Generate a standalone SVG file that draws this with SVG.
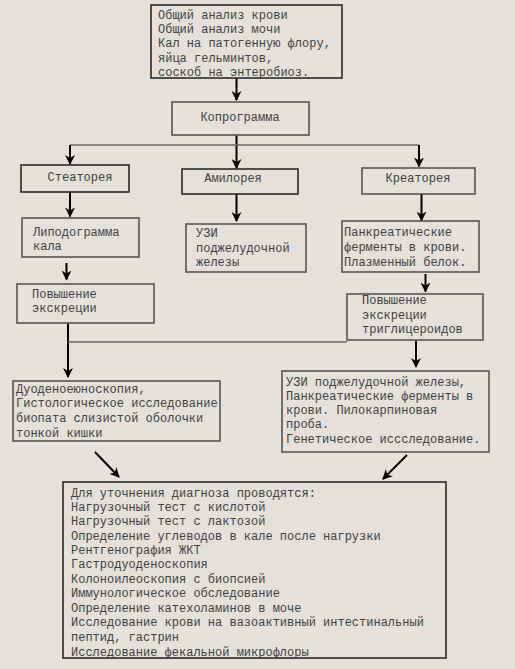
<svg xmlns="http://www.w3.org/2000/svg" width="515" height="669" viewBox="0 0 515 669">
<style>
.box{fill:none;stroke:#555;stroke-width:1.6}
.box.dark{stroke:#2a2a2a}
text{font-family:"Liberation Mono","DejaVu Sans Mono",monospace;font-size:12px;fill:#404040}
text.c{text-anchor:middle}
.arr{stroke:#000;stroke-width:2;fill:none;marker-end:url(#ah)}
.ln{stroke:#666;stroke-width:1.6;fill:none}
</style>
<defs>
<marker id="ah" markerUnits="userSpaceOnUse" viewBox="0 0 10 10" refX="9" refY="5" markerWidth="10" markerHeight="10" orient="auto">
<path d="M0,0 L10,5 L0,10 L3,5 z" fill="#000"/>
</marker>
</defs>
<rect width="515" height="669" fill="#e5e1da"/>
<g id="connectors">
<line class="arr" x1="236.5" y1="78" x2="236.5" y2="100"/>
<line class="arr" x1="236.5" y1="135" x2="236.5" y2="168"/>
<line class="ln" x1="70" y1="145" x2="419" y2="145"/>
<line class="arr" x1="70" y1="145" x2="70" y2="164"/>
<line class="arr" x1="419" y1="145" x2="419" y2="166.5"/>
<line class="arr" x1="70" y1="192" x2="70" y2="216.5"/>
<line class="arr" x1="236.5" y1="194" x2="236.5" y2="221"/>
<line class="arr" x1="421.5" y1="194" x2="421.5" y2="220.5"/>
<line class="arr" x1="66.5" y1="263" x2="66.5" y2="279.5"/>
<line class="arr" x1="425.5" y1="274" x2="425.5" y2="291.5"/>
<line class="arr" x1="68" y1="323" x2="68" y2="377"/>
<line class="ln" x1="68" y1="342" x2="347" y2="342"/>
<line class="arr" x1="416" y1="341" x2="416" y2="367"/>
<line class="arr" x1="95" y1="452" x2="119" y2="477"/>
<line class="arr" x1="407" y1="455" x2="383" y2="479"/>
</g>
<g id="n1">
<rect class="box dark" x="151" y="5" width="191" height="73"/>
<text x="158" y="19">Общий анализ крови</text>
<text x="158" y="33">Общий анализ мочи</text>
<text x="158" y="47.3">Кал на патогенную флору,</text>
<text x="158" y="61.7">яйца гельминтов,</text>
<text x="158" y="75.7">соскоб на энтеробиоз.</text>
</g>
<g id="n2">
<rect class="box" x="172" y="102" width="137" height="33"/>
<text class="c" x="240" y="121">Копрограмма</text>
</g>
<g id="n3">
<rect class="box dark" x="21" y="165" width="108" height="27"/>
<text class="c" x="80" y="181">Стеаторея</text>
</g>
<g id="n4">
<rect class="box dark" x="182" y="169" width="116" height="25"/>
<text class="c" x="233" y="182">Амилорея</text>
</g>
<g id="n5">
<rect class="box" x="362" y="168" width="113" height="26"/>
<text class="c" x="418" y="182">Креаторея</text>
</g>
<g id="n6">
<rect class="box" x="22" y="218" width="117" height="39"/>
<text x="33" y="235.7">Липодограмма</text>
<text x="33" y="250">кала</text>
</g>
<g id="n7">
<rect class="box" x="186" y="224" width="120" height="48"/>
<text x="196" y="236.7">УЗИ</text>
<text x="196" y="252">поджелудочной</text>
<text x="196" y="266">железы</text>
</g>
<g id="n8">
<rect class="box" x="342" y="221" width="137" height="51"/>
<text x="344" y="235.7">Панкреатические</text>
<text x="344" y="251">ферменты в крови.</text>
<text x="344" y="266">Плазменный белок.</text>
</g>
<g id="n9">
<rect class="box" x="17" y="284" width="137" height="39"/>
<text x="32" y="298">Повышение</text>
<text x="32" y="312">экскреции</text>
</g>
<g id="n10">
<rect class="box" x="347" y="294" width="136" height="46"/>
<text x="362" y="304">Повышение</text>
<text x="362" y="319">экскреции</text>
<text x="362" y="333">триглицероидов</text>
</g>
<g id="n11">
<rect class="box" x="13" y="381" width="207" height="60"/>
<text x="16" y="393.3">Дуоденоеюноскопия,</text>
<text x="16" y="407.3">Гистологическое исследование</text>
<text x="16" y="422.3">биопата слизистой оболочки</text>
<text x="16" y="436.7">тонкой кишки</text>
</g>
<g id="n12">
<rect class="box" x="282" y="371" width="207" height="81"/>
<text x="286" y="385.7">УЗИ поджелудочной железы,</text>
<text x="286" y="399.7">Панкреатические ферменты в</text>
<text x="286" y="414">крови. Пилокарпиновая</text>
<text x="286" y="428.3">проба.</text>
<text x="286" y="443">Генетическое иссследование.</text>
</g>
<g id="n13">
<rect class="box dark" x="63" y="482" width="383" height="176"/>
<text x="71" y="496.7">Для уточнения диагноза проводятся:</text>
<text x="71" y="510.5">Нагрузочный тест с кислотой</text>
<text x="71" y="524.8">Нагрузочный тест с лактозой</text>
<text x="71" y="539.7">Определение углеводов в кале после нагрузки</text>
<text x="71" y="554">Рентгенография ЖКТ</text>
<text x="71" y="568.3">Гастродуоденоскопия</text>
<text x="71" y="582.7">Колоноилеоскопия с биопсией</text>
<text x="71" y="597.3">Иммунологическое обследование</text>
<text x="71" y="611.7">Определение катехоламинов в моче</text>
<text x="71" y="626.3">Исследование крови на вазоактивный интестинальный</text>
<text x="71" y="640.7">пептид, гастрин</text>
<text x="71" y="655.5">Исследование фекальной микрофлоры</text>
</g>
</svg>
